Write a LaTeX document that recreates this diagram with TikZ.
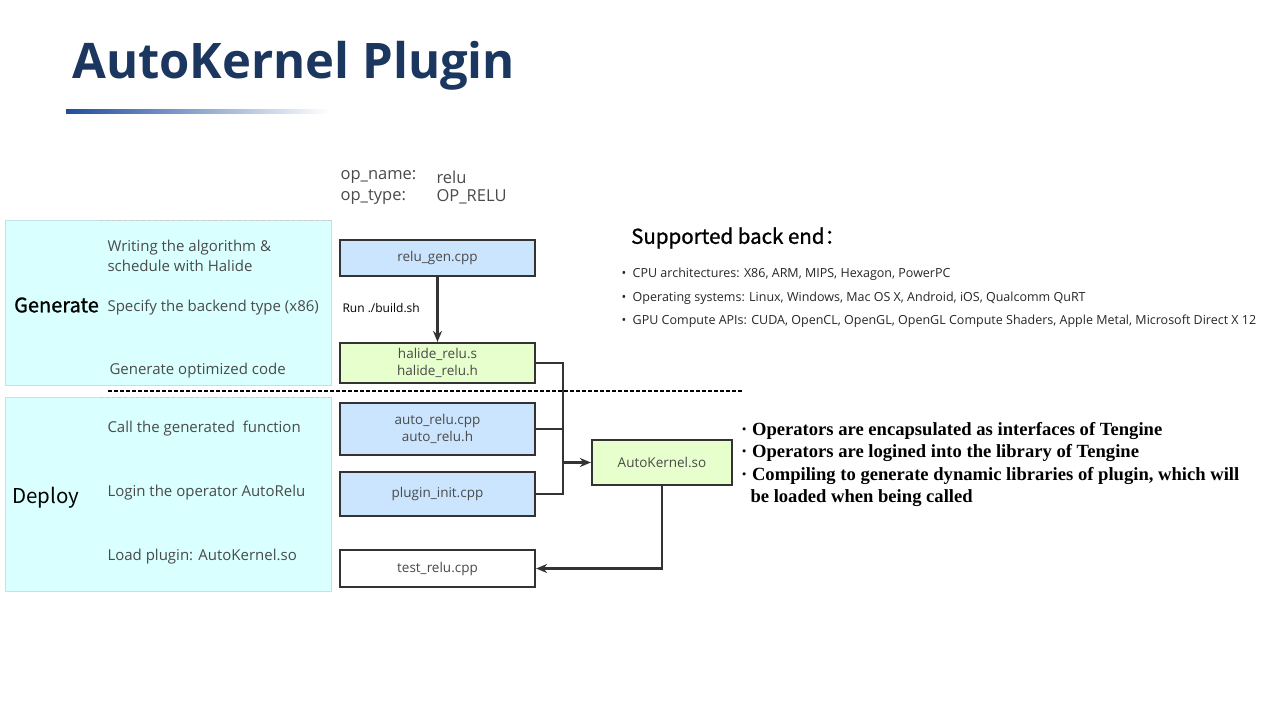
\documentclass[tikz,border=0pt]{standalone}
\usepackage{fontspec}
\setmainfont{Open Sans}
\newfontfamily\cjk{Noto Sans CJK SC}
\newfontfamily\cjkmed[FakeBold=1]{Noto Sans CJK SC}
\newfontfamily\timesb{Liberation Serif}
\usetikzlibrary{positioning, arrows.meta}
\definecolor{titleblue}{HTML}{1B365F}
\definecolor{barblue}{HTML}{1F4E9E}
\definecolor{panelcyan}{HTML}{D9FFFF}
\definecolor{panelline}{HTML}{BFE3E6}
\definecolor{boxblue}{HTML}{CCE5FF}
\definecolor{boxgreen}{HTML}{E6FFCC}
\definecolor{lineclr}{HTML}{333333}
\definecolor{noteclr}{HTML}{4A4A4A}
\begin{document}
\begin{tikzpicture}[x=1pt, y=-1pt,
    filebox/.style={draw=lineclr, line width=2.2pt, minimum width=195pt, align=center,
        font=\fontsize{13.5}{17}\selectfont, text=noteclr},
    note/.style={anchor=west, align=left, font=\fontsize{15}{20}\selectfont, text=noteclr},
    bullet/.style={anchor=west, font=\fontsize{12.5}{15}\selectfont, text=black!85},
    wire/.style={draw=lineclr, line width=2.2pt},
    >={Stealth[length=11pt, width=9pt]}]
\useasboundingbox (0,0) rectangle (1280,720);

% title
\node[anchor=west, inner sep=0pt, text=titleblue, font=\fontsize{49}{55}\selectfont\bfseries] (title) at (72,66) {AutoKernel Plugin};
\shade[left color=barblue, right color=white] (66,109) rectangle (330,113);

% the two stages
\fill[panelcyan, draw=panelline] (5,220) rectangle (331,385);
\fill[panelcyan, draw=panelline] (5,397) rectangle (331,591);
\draw[gray!40, dashed] (100,220) -- (331,220);
\draw[gray!40, dashed] (100,397) -- (331,397);
\node[anchor=west, inner sep=0pt, font=\cjkmed\fontsize{20}{22}\selectfont] (gen) at (14,305) {Generate};
\node[anchor=west, inner sep=0pt, font=\cjk\fontsize{20.5}{22}\selectfont] (dep) at (12,498) {Deploy};

\node[note] (n1) at (104,256) {Writing the algorithm \&\\schedule with Halide};
\node[note] (n2) at (104,308) {Specify the backend type (x86)};
\node[note] (n3) at (106,371) {Generate optimized code};
\node[note] (n4) at (104,429) {Call the generated\ \ function};
\node[note] (n5) at (104,493) {Login the operator AutoRelu};
\node[note] (n6) at (104,557) {Load plugin: AutoKernel.so};

\node[anchor=west, font=\fontsize{16.5}{20}\selectfont, text=noteclr] (opname) at (337,177) {op\_name:};
\node[anchor=west, font=\fontsize{16.5}{20}\selectfont, text=noteclr] (opnamev) at (433,177) {relu};
\node[anchor=west, font=\fontsize{16.5}{20}\selectfont, text=noteclr] (optype) at (337,197) {op\_type:};
\node[anchor=west, font=\fontsize{16.5}{20}\selectfont, text=noteclr] (optypev) at (433,197) {OP\_RELU};

% files
\node[filebox, fill=boxblue, minimum height=36pt] (relugen) at (437.5,258) {relu\_gen.cpp};
\node[filebox, fill=boxgreen, minimum height=40pt] (halide) at (437.5,363) {halide\_relu.s\\halide\_relu.h};
\node[filebox, fill=boxblue, minimum height=52pt] (autorelu) at (437.5,429) {auto\_relu.cpp\\auto\_relu.h};
\node[filebox, fill=boxblue, minimum height=44pt] (plugin) at (437.5,494) {plugin\_init.cpp};
\node[filebox, fill=white, minimum height=37pt] (testrelu) at (437.5,568.5) {test\_relu.cpp};
\node[filebox, fill=boxgreen, minimum width=140pt, minimum height=45pt] (ak) at (662,462.5) {AutoKernel.so};

\draw[line width=1.3pt, dash pattern=on 4pt off 2pt] (108,391) -- (742,391);

% connectors
\draw[wire, ->] (relugen) -- (halide);
\node[anchor=west, font=\fontsize{12}{14}\selectfont] (run) at (339,308) {Run ./build.sh};
\coordinate (join) at (563,462.5);
\draw[wire] (halide.east) -| (join);
\draw[wire] (autorelu.east) -| (join);
\draw[wire] (plugin.east) -| (join);
\draw[wire, ->] (join) -- (ak.west);
\draw[wire, ->] (ak.south) |- (testrelu.east);

% back ends
\node[anchor=west, inner sep=0pt, font=\cjkmed\fontsize{20.5}{22}\selectfont] (sup) at (631,238) {Supported back end：};
\node[bullet] (b1) at (618,274) {•\ \ CPU architectures: X86, ARM, MIPS, Hexagon, PowerPC};
\node[bullet] (b2) at (618,298) {•\ \ Operating systems: Linux, Windows, Mac OS X, Android, iOS, Qualcomm QuRT};
\node[bullet] (b3) at (618,321) {•\ \ GPU Compute APIs: CUDA, OpenCL, OpenGL, OpenGL Compute Shaders, Apple Metal, Microsoft Direct X 12};

% notes on the plugin
\node[anchor=north west, align=left, inner sep=0pt, font=\timesb\bfseries\fontsize{18.6}{22.5}\selectfont] (ops) at (741,422)
    {· Operators are encapsulated as interfaces of Tengine\\
     · Operators are logined into the library of Tengine\\
     · Compiling to generate dynamic libraries of plugin, which will\\
     \ \ be loaded when being called};
\end{tikzpicture}
\end{document}
